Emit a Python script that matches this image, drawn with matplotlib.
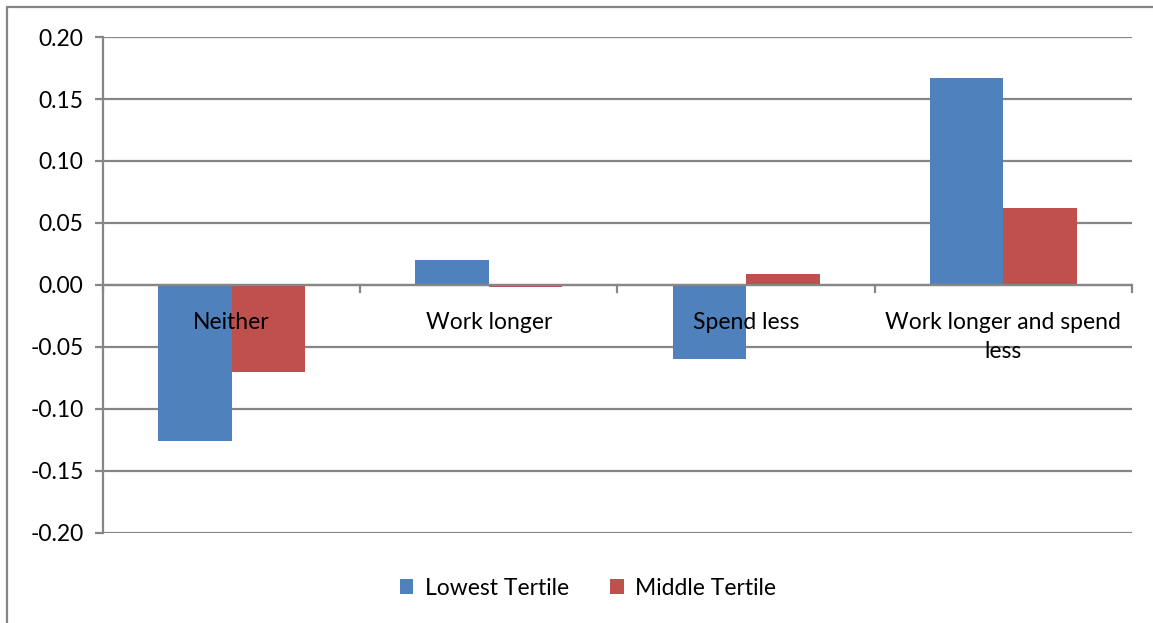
import numpy as np
import matplotlib.pyplot as plt
from matplotlib.patches import Rectangle

categories = ['Neither', 'Work longer', 'Spend less', 'Work longer and spend\nless']
lowest = [-0.126, 0.020, -0.060, 0.167]
middle = [-0.070, -0.002, 0.009, 0.062]
yticks = [-0.20, -0.15, -0.10, -0.05, 0.00, 0.05, 0.10, 0.15, 0.20]

blue = '#4F81BD'
red = '#C0504D'
grid = '#868686'
fs = 16.5

plt.rcParams['font.family'] = ['Lato', 'DejaVu Sans']

fig = plt.figure(figsize=(11.53, 6.23), dpi=100)
ax = fig.add_axes([0.0893, 0.1445, 0.8925, 0.7961])

# outer chart frame (left and top edges visible)
fig.patches.append(Rectangle((7 / 1153, -0.1), 1.2, 1 - 7 / 623 + 0.1,
                             transform=fig.transFigure, fill=False,
                             edgecolor=grid, lw=1.6))

x = np.arange(len(categories))
w = 1 / 3.5
ax.bar(x - w / 2, lowest, w, color=blue, label='Lowest Tertile', zorder=3)
ax.bar(x + w / 2, middle, w, color=red, label='Middle Tertile', zorder=3)

ax.set_xlim(-0.5, len(categories) - 0.5)
ax.set_ylim(-0.20, 0.20)
ax.set_yticks(yticks)
ax.set_yticklabels([f'{v:.2f}' for v in yticks], fontsize=fs)
ax.yaxis.grid(True, color=grid, lw=1.6, zorder=0)
ax.tick_params(axis='y', length=6, width=1.6, color=grid, pad=8)

for s in ['top', 'right', 'bottom']:
    ax.spines[s].set_visible(False)
ax.spines['left'].set_color(grid)
ax.spines['left'].set_linewidth(1.6)

# category axis drawn at zero
ax.axhline(0, color=grid, lw=1.6, zorder=4)
ax.set_xticks([])
for b in np.arange(-0.5, len(categories), 1.0):
    ax.plot([b, b], [0, -0.006], color=grid, lw=1.6, zorder=4, clip_on=False)
for i, c in enumerate(categories):
    ax.text(i, -0.022, c, ha='center', va='top', fontsize=fs,
            linespacing=1.45, zorder=5)

fig.legend(loc='center', bbox_to_anchor=(0.510, 0.056), ncol=2, frameon=False,
           fontsize=fs, handlelength=0.6, handleheight=0.6, handletextpad=0.5,
           columnspacing=1.8)

fig.savefig('out.png', dpi=100)
